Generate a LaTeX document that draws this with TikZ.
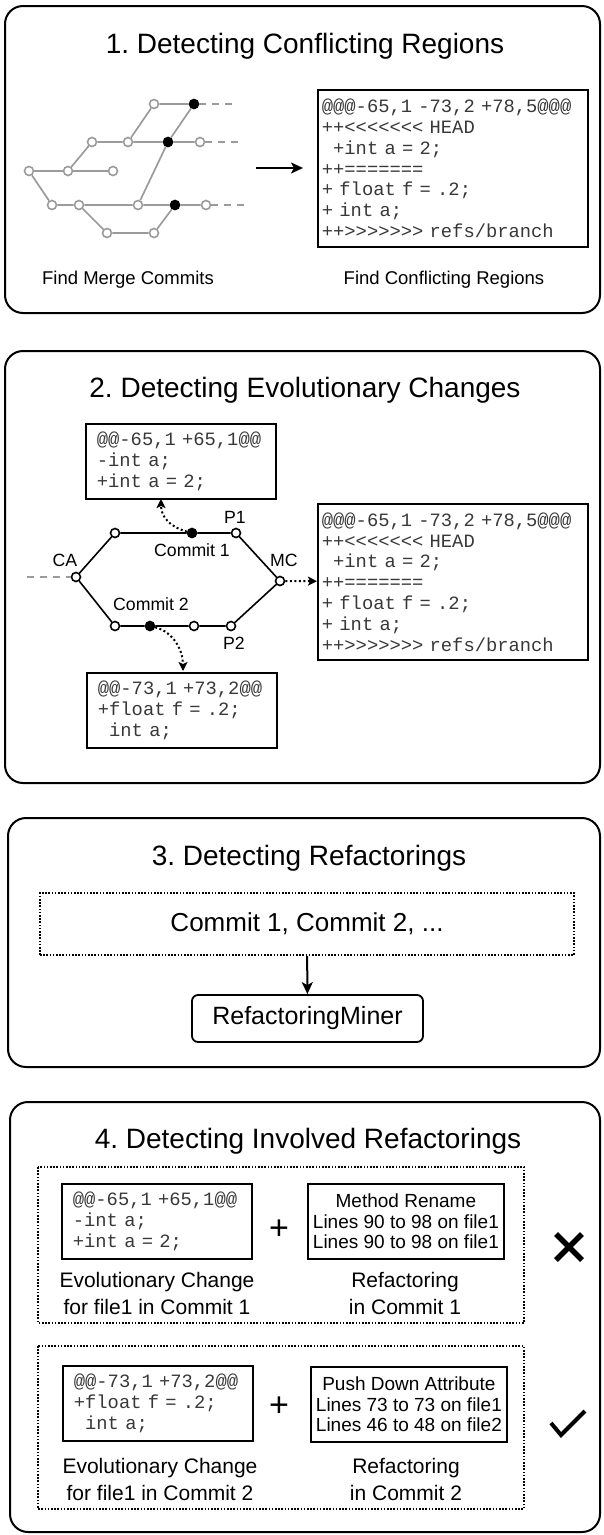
\documentclass[tikz,border=0pt]{standalone}
\usepackage{fontspec}
\setmainfont{Liberation Sans}
\newfontfamily\codefont{Liberation Mono}[WordSpace={1,0,0}]
\usetikzlibrary{arrows.meta}
\frenchspacing

\definecolor{linegray}{RGB}{155,155,155}
\newcommand{\codesp}{\hspace*{0.6em}}
\newcommand{\codestyle}{\codefont\fontsize{18.8}{20.8}\selectfont\spaceskip=11.28pt\relax}

\tikzset{
  panel/.style={draw, line width=2pt, rounded corners=18pt},
  ptitle/.style={anchor=base, inner sep=0pt, font=\fontsize{28}{32}\selectfont},
  lbl/.style={anchor=base, inner sep=0pt, font=\fontsize{18.5}{22}\selectfont},
  glbl/.style={anchor=base, inner sep=0pt, font=\fontsize{17.7}{21}\selectfont},
  gnode/.style={circle, draw=linegray, fill=white, line width=1.6pt, minimum size=9pt, inner sep=0pt},
  gdot/.style={gnode, draw=black, fill=black},
  cnode/.style={gnode, draw=black},
  cdot/.style={gnode, draw=black, fill=black},
  gline/.style={draw=linegray, line width=1.7pt},
  gdash/.style={draw=linegray, line width=1.6pt, dash pattern=on 7pt off 6pt},
  cline/.style={line width=1.6pt},
  codebox/.style={draw, line width=1.8pt, anchor=north west, align=left, inner ysep=0pt,
    font=\codestyle, text=black!78},
  diffbox/.style={codebox, inner xsep=11pt, text width=168pt, minimum height=75pt},
  mergebox/.style={codebox, inner xsep=4pt, text width=262pt, minimum height=157pt},
  refbox/.style={draw, line width=1.8pt, anchor=north west, align=center, inner sep=0pt,
    minimum width=196pt, minimum height=75pt, font=\fontsize{19}{20.7}\selectfont},
  caption/.style={align=center, inner sep=0pt, font=\fontsize{21}{27}\selectfont},
  dotframe/.style={line width=1.6pt, dash pattern=on 1.6pt off 1.6pt},
  commitsbox/.style={draw, dotframe, minimum width=534pt, minimum height=62pt, font=\fontsize{26}{30}\selectfont},
  minerbox/.style={draw, line width=1.8pt, rounded corners=6pt, minimum width=231pt, minimum height=47pt,
    font=\fontsize{25}{30}\selectfont},
  plus/.style={inner sep=0pt, font=\fontsize{34}{36}\selectfont},
  flow/.style={line width=2pt, -{Stealth[length=12pt, width=11pt, inset=3pt]}},
  evoarrow/.style={line width=2pt, dash pattern=on 2pt off 2.5pt, -{Stealth[length=9pt, width=9pt, inset=2pt]}},
}

\begin{document}
\begin{tikzpicture}[x=1pt, y=-1pt]
\useasboundingbox (0,0) rectangle (603,1535);

% 1
\draw[panel] (5,6) rectangle (600,313);
\node[ptitle] (titleA) at (305,53) {1. Detecting Conflicting Regions};
\node[gnode] (ga1) at (29,171) {};
\node[gnode] (ga2) at (68,171) {};
\node[gnode] (ga3) at (113,171) {};
\node[gnode] (gb1) at (92,142) {};
\node[gnode] (gb2) at (128,142) {};
\node[gdot] (gb3) at (168,142) {};
\node[gnode] (gb4) at (200,142) {};
\node[gnode] (gc1) at (154,104) {};
\node[gdot] (gc2) at (194,104) {};
\node[gnode] (gd1) at (52,205) {};
\node[gnode] (gd2) at (79,205) {};
\node[gnode] (gd3) at (138,205) {};
\node[gdot] (gd4) at (175,205) {};
\node[gnode] (gd5) at (206,205) {};
\node[gnode] (ge1) at (107,233) {};
\node[gnode] (ge2) at (154,233) {};
\draw[gline] (ga1) -- (ga2) -- (ga3);
\draw[gline] (ga2) -- (gb1) -- (gb2) -- (gb3) -- (gb4);
\draw[gline] (gb2) -- (gc1) -- (gc2) -- (gb3) -- (gd3);
\draw[gline] (ga1) -- (gd1) -- (gd2) -- (gd3) -- (gd4) -- (gd5);
\draw[gline] (gd2) -- (ge1) -- (ge2) -- (gd4);
\coordinate (tailc) at (233,104);
\coordinate (tailb) at (240,142);
\coordinate (taild) at (245,205);
\draw[gdash] (gc2) -- (tailc);
\draw[gdash] (gb4) -- (tailb);
\draw[gdash] (gd5) -- (taild);
\coordinate (arrA) at (256,168);
\coordinate (arrB) at (303,168);
\draw[flow] (arrA) -- (arrB);
\node[mergebox] (conflict) at (317,89) {@@@-65,1 -73,2 +78,5@@@\\++<<<<<<< HEAD\\\codesp +int a = 2;\\++=======\\+ float f = .2;\\+ int a;\\++>>>>>>> refs/branch};
\node[lbl] (findmerge) at (128,284.5) {Find Merge Commits};
\node[lbl] (findconf) at (444,284.5) {Find Conflicting Regions};

% 2
\draw[panel] (5,351) rectangle (600,783);
\node[ptitle] (titleB) at (305,397) {2. Detecting Evolutionary Changes};
\node[diffbox] (diffone) at (85,423) {@@-65,1 +65,1@@\\-int a;\\+int a = 2;};
\node[mergebox, minimum height=156pt] (evmerge) at (317,503) {@@@-65,1 -73,2 +78,5@@@\\++<<<<<<< HEAD\\\codesp +int a = 2;\\++=======\\+ float f = .2;\\+ int a;\\++>>>>>>> refs/branch};
\node[diffbox] (difftwo) at (86,672) {@@-73,1 +73,2@@\\+float f = .2;\\\codesp int a;};
\node[cnode] (ca) at (76,577) {};
\node[cnode] (ptop) at (115,533) {};
\node[cdot] (cmone) at (192,533) {};
\node[cnode] (pone) at (236,533) {};
\node[cnode] (mc) at (280,581) {};
\node[cnode] (pbot) at (115,626) {};
\node[cdot] (cmtwo) at (150,626) {};
\node[cnode] (pmid) at (194,626) {};
\node[cnode] (ptwo) at (231,626) {};
\draw[cline] (ca) -- (ptop) -- (cmone) -- (pone) -- (mc) -- (ptwo) -- (pmid) -- (cmtwo) -- (pbot) -- (ca);
\coordinate (cain) at (27,577);
\draw[gdash] (cain) -- (ca);
\node[glbl] (lca) at (65,566) {CA};
\node[glbl] (lcmone) at (192,556) {Commit 1};
\node[glbl] (lpone) at (235,523) {P1};
\node[glbl] (lmc) at (284,566) {MC};
\node[glbl] (lcmtwo) at (151,610) {Commit 2};
\node[glbl] (lptwo) at (234,649) {P2};
\coordinate (upin) at (161,499);
\coordinate (downin) at (183,671);
\draw[evoarrow] (cmone) .. controls +(-22,-6) and +(0,18) .. (upin);
\draw[evoarrow] (cmtwo) .. controls +(24,6) and +(0,-20) .. (downin);
\draw[evoarrow] (mc) -- (evmerge);

% 3
\draw[panel] (8,818) rectangle (600,1067);
\node[ptitle] (titleC) at (309,865) {3. Detecting Refactorings};
\node[commitsbox] (commits) at (307,924) {Commit 1, Commit 2, ...};
\node[minerbox] (miner) at (307.5,1018.5) {RefactoringMiner};
\draw[flow] (commits) -- (miner);

% 4
\draw[panel] (10,1102) rectangle (600,1532);
\node[ptitle] (titleD) at (308,1148) {4. Detecting Involved Refactorings};
\draw[dotframe] (38,1167) rectangle (524,1323);
\draw[dotframe] (38,1346) rectangle (524,1509);
\node[diffbox] (changeone) at (61,1183) {@@-65,1 +65,1@@\\-int a;\\+int a = 2;};
\node[plus] (plusone) at (279,1230) {+};
\node[refbox] (refone) at (307,1183) {Method Rename\\Lines 90 to 98 on file1\\Lines 90 to 98 on file1};
\node[caption] (capone) at (157,1293) {Evolutionary Change\\for file1 in Commit 1};
\node[caption] (caprefone) at (405,1293) {Refactoring\\in Commit 1};
\draw[line width=5.5pt] (556,1234) -- (582,1260) (556,1260) -- (582,1234);
\node[diffbox] (changetwo) at (62,1365) {@@-73,1 +73,2@@\\+float f = .2;\\\codesp int a;};
\node[plus] (plustwo) at (279,1407) {+};
\node[refbox] (reftwo) at (310,1366) {Push Down Attribute\\Lines 73 to 73 on file1\\Lines 46 to 48 on file2};
\node[caption] (captwo) at (160,1479) {Evolutionary Change\\for file1 in Commit 2};
\node[caption] (capreftwo) at (406,1479) {Refactoring\\in Commit 2};
\draw[line width=4pt] (551,1423) -- (561,1435) -- (585,1411);
\end{tikzpicture}
\end{document}
